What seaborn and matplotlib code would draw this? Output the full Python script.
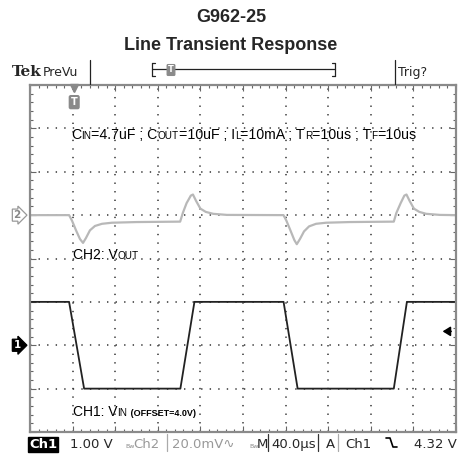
import numpy as np
import pandas as pd
import seaborn as sns
import matplotlib.pyplot as plt
from matplotlib.lines import Line2D
from matplotlib.ticker import MultipleLocator
from matplotlib.transforms import blended_transform_factory

# CH1: input voltage (V), offset 4.0 V, 1.00 V/div
t_vin = [0, 36.7, 50.8, 141.2, 154.4, 238.1, 251.3, 341.6, 353.9, 400]
vin = [5.0, 5.0, 3.0, 3.0, 5.0, 5.0, 3.0, 3.0, 5.0, 5.0]

# CH2: output voltage deviation (mV), 20.0 mV/div
t_vout = [0, 36.7, 39.4, 43.2, 46.9, 49.8, 52.6, 56.3, 61.0, 67.6, 77.0, 100.0,
          141.0, 143.5, 147.0, 151.0, 153.0, 156.0, 160.0, 165.0, 172.0, 185.0,
          238.0, 240.7, 244.5, 248.2, 250.5, 253.5, 257.3, 262.0, 268.6, 278.0, 300.0,
          341.6, 344.0, 348.0, 351.5, 353.5, 356.5, 360.5, 365.5, 372.0, 385.0, 400.0]
vout = [0, 0, -2.5, -7.0, -11.0, -12.8, -10.5, -7.0, -5.0, -4.0, -3.5, -3.2,
        -3.0, 1.0, 5.5, 9.0, 9.5, 6.5, 3.0, 1.5, 0.6, 0.1,
        0, -2.5, -7.0, -11.5, -13.4, -11.0, -7.5, -5.2, -4.0, -3.5, -3.2,
        -3.0, 1.0, 5.5, 9.0, 9.5, 6.5, 3.0, 1.5, 0.6, 0.1, 0.0]

ch1_pos, ch1_scale, ch1_offset = -2.0, 1.0, 4.0
ch2_pos, ch2_scale = 1.0, 20.0
trig_level = 4.32
trig_time = 41.5

df_vin = pd.DataFrame({"t": t_vin, "div": [(v - ch1_offset) / ch1_scale + ch1_pos for v in vin]})
df_vout = pd.DataFrame({"t": t_vout, "div": [v / ch2_scale + ch2_pos for v in vout]})

W, H = 462, 455
def fx(px):
    return px / W
def fy(py):
    return 1 - py / H

sns.set_style("white")
plt.rcParams["font.family"] = ["Liberation Sans", "DejaVu Sans"]

fig = plt.figure(figsize=(W / 100, H / 100), dpi=100)
ax = fig.add_axes([fx(30), fy(432), (456 - 30) / W, (432 - 85) / H])

sns.lineplot(data=df_vout, x="t", y="div", ax=ax, color="#b8b8b8", lw=1.6, estimator=None, sort=False)
sns.lineplot(data=df_vin, x="t", y="div", ax=ax, color="#222222", lw=1.3, estimator=None, sort=False)

ax.set_xlim(0, 400)
ax.set_ylim(-4, 4)
ax.xaxis.set_major_locator(MultipleLocator(40))
ax.yaxis.set_major_locator(MultipleLocator(1))
ax.xaxis.set_minor_locator(MultipleLocator(8))
ax.yaxis.set_minor_locator(MultipleLocator(0.2))
ax.grid(True, which="major", color="#333333", lw=1.1, linestyle=(0, (0.9, 4.7)))
ax.set_axisbelow(True)
ax.tick_params(which="both", direction="in", top=True, right=True, bottom=True, left=True,
               labelbottom=False, labelleft=False, color="#666666")
ax.tick_params(which="major", length=4, width=0.8)
ax.tick_params(which="minor", length=2.5, width=0.8)
ax.set_xlabel("")
ax.set_ylabel("")
for s in ax.spines.values():
    s.set_color("#8a8a8a")
    s.set_linewidth(1.6)

# channel markers on the left
blend = blended_transform_factory(ax.transAxes, ax.transData)
ax.text(-0.022, ch2_pos, "2", transform=blend, ha="right", va="center", fontsize=7.5,
        color="#888888", weight="bold", family="DejaVu Sans", clip_on=False,
        bbox=dict(boxstyle="rarrow,pad=0.1", fc="white", ec="#999999", lw=0.9))
ax.text(-0.022, ch1_pos, "1", transform=blend, ha="right", va="center", fontsize=7.5,
        color="white", weight="bold", family="DejaVu Sans", clip_on=False,
        bbox=dict(boxstyle="rarrow,pad=0.1", fc="black", ec="black", lw=0.9))

# trigger level arrow on the right
ax.annotate("", xy=(0.962, trig_level - ch1_offset + ch1_pos), xycoords=blend,
            xytext=(0.995, trig_level - ch1_offset + ch1_pos), textcoords=blend,
            arrowprops=dict(arrowstyle="-|>,head_length=0.45,head_width=0.28", color="black", lw=1.2))

# trigger position marker at the top
tblend = blended_transform_factory(ax.transData, ax.transAxes)
ax.plot([trig_time], [0.99], marker="v", color="#888888", ms=6, transform=tblend, clip_on=False)
ax.text(trig_time, 0.965, "T", transform=tblend, ha="center", va="top", fontsize=7,
        weight="bold", color="white", family="DejaVu Sans",
        bbox=dict(boxstyle="round,pad=0.15", fc="#8a8a8a", ec="#8a8a8a"))

# condition text with small-cap subscripts, pieces placed side by side on one baseline
renderer = fig.canvas.get_renderer()
def chain(px, py, pieces, color="black"):
    x = px
    for p in pieces:
        t = fig.text(fx(x), fy(py), p[0], fontsize=p[1], color=color, va="baseline",
                     weight=p[2] if len(p) > 2 else "normal")
        x = t.get_window_extent(renderer).x1

chain(71, 139, [("C", 10.2), ("IN", 7.2), ("=4.7uF ; C", 10.2), ("OUT", 7.2),
                ("=10uF ; I", 10.2), ("L", 7.2), ("=10mA ; T", 10.2), ("R", 7.2),
                ("=10us ; T", 10.2), ("F", 7.2), ("=10us", 10.2)])
chain(73, 259, [("CH2: V", 10), ("OUT", 7.2)])
chain(73, 416, [("CH1: V", 10), ("IN", 7.2), (" (OFFSET=4.0V)", 6.5, "bold")])

# titles
fig.text(0.5, fy(22), "G962-25", ha="center", va="baseline", fontsize=13, weight="bold")
fig.text(0.5, fy(50), "Line Transient Response", ha="center", va="baseline", fontsize=13, weight="bold")

# header bar
fig.text(fx(12), fy(76), "Tek", fontsize=11, weight="bold", family="DejaVu Serif", va="baseline")
fig.text(fx(43), fy(76), "PreVu", fontsize=9, family="DejaVu Sans", va="baseline")
fig.text(fx(398), fy(76), "Trig?", fontsize=9, family="DejaVu Sans", va="baseline")
for xs, ys in [([90, 90], [60, 84]), ([395, 395], [60, 84]),
               ([152, 335], [69, 69]), ([152, 152], [63, 76]), ([335, 335], [63, 76]),
               ([152, 155], [63, 63]), ([152, 155], [76, 76]), ([332, 335], [63, 63]), ([332, 335], [76, 76])]:
    fig.add_artist(Line2D([fx(v) for v in xs], [fy(v) for v in ys], color="#222222", lw=0.9))
fig.text(fx(171), fy(70), "T", ha="center", va="center", fontsize=6, weight="bold", color="white",
         family="DejaVu Sans", bbox=dict(boxstyle="round,pad=0.1", fc="#8a8a8a", ec="#8a8a8a"))

# status bar
sb = fy(448)
fig.text(fx(29), sb, "Ch1", fontsize=9.5, color="white", weight="bold", family="DejaVu Sans", va="baseline",
         bbox=dict(boxstyle="square,pad=0.1", fc="black", ec="black"))
fig.text(fx(70), sb, "1.00 V", fontsize=9.5, family="DejaVu Sans", va="baseline")
fig.text(fx(125), sb, "Bw", fontsize=4.5, color="#888888", family="DejaVu Sans", va="baseline")
fig.text(fx(133), sb, "Ch2", fontsize=9.5, color="#999999", family="DejaVu Sans", va="baseline")
fig.text(fx(172), sb, "20.0mV\u223f", fontsize=9.5, color="#999999", family="DejaVu Sans", va="baseline")
fig.text(fx(249), sb, "Bw", fontsize=4.5, color="#888888", family="DejaVu Sans", va="baseline")
fig.text(fx(257), sb, "M", fontsize=9.5, family="DejaVu Sans", va="baseline")
fig.text(fx(271), sb, "40.0\u00b5s", fontsize=9.5, family="DejaVu Sans", va="baseline")
fig.text(fx(326), sb, "A", fontsize=9.5, family="DejaVu Sans", va="baseline")
fig.text(fx(345), sb, "Ch1", fontsize=9.5, family="DejaVu Sans", va="baseline")
fig.text(fx(457), sb, "4.32 V", fontsize=9.5, family="DejaVu Sans", va="baseline", ha="right")
fig.add_artist(Line2D([fx(386), fx(390), fx(393), fx(397)], [fy(438), fy(438), fy(447), fy(447)],
                      color="black", lw=1.2))
for xv, c in [(167, "#aaaaaa"), (268, "#333333"), (318, "#333333"), (338, "#aaaaaa")]:
    fig.add_artist(Line2D([fx(xv), fx(xv)], [fy(434), fy(451)], color=c, lw=0.9))

fig.savefig("out.png", dpi=100)
